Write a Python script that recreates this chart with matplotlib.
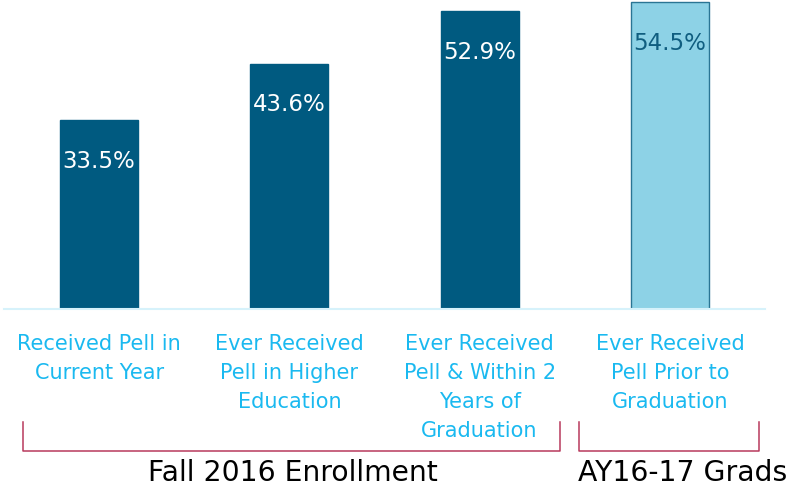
import numpy as np
import matplotlib.pyplot as plt
import matplotlib.transforms as mtransforms

# Pell grant share by measure
categories = [
    "Received Pell in\nCurrent Year",
    "Ever Received\nPell in Higher\nEducation",
    "Ever Received\nPell & Within 2\nYears of\nGraduation",
    "Ever Received\nPell Prior to\nGraduation",
]
values = [33.5, 43.6, 52.9, 54.5]
value_labels = ["33.5%", "43.6%", "52.9%", "54.5%"]

# group brackets under the categories: (label, first index, last index)
group_names = ["Fall 2016 Enrollment", "AY16-17 Grads"]
group_first = [0, 3]
group_last = [2, 3]

dark = "#005a80"
light = "#8dd2e6"
bar_colors = [dark, dark, dark, light]
edge_colors = [dark, dark, dark, "#2a7594"]
text_colors = ["white", "white", "white", "#105e80"]

plt.rcParams['font.family'] = ['DejaVu Sans']

fig = plt.figure(figsize=(7.9, 4.89), dpi=100)
ax = fig.add_axes([4 / 790, 179 / 489, 761 / 790, 310 / 489])

x = np.arange(len(categories))
bars = ax.bar(x, values, width=0.41, color=bar_colors, edgecolor=edge_colors, linewidth=1)

for b, lab, c in zip(bars, value_labels, text_colors):
    ax.annotate(lab, (b.get_x() + b.get_width() / 2, b.get_height()),
                xytext=(0, -29), textcoords="offset points",
                ha="center", va="center", color=c, fontsize=16.5)

ax.set_xlim(-0.5, 3.5)
ax.set_ylim(0, 55.06)
ax.set_xticks(x)
ax.set_xticklabels(categories, color="#1ab9f0", fontsize=15, linespacing=1.58)
ax.tick_params(axis="x", length=0, pad=17)
ax.set_yticks([])
for side in ["top", "right", "left"]:
    ax.spines[side].set_visible(False)
ax.spines["bottom"].set_color("#d6f2fb")
ax.spines["bottom"].set_linewidth(1.5)

# brackets and group titles
trans = mtransforms.blended_transform_factory(ax.transData, ax.transAxes)
bracket_pad = [(0.40, 0.42), (0.48, 0.47)]
title_shift = [1, 10]  # points
y_top, y_bot = -0.364, -0.458
for name, i0, i1, (pl, pr), dx in zip(group_names, group_first, group_last, bracket_pad, title_shift):
    x0, x1 = i0 - pl, i1 + pr
    ax.plot([x0, x0, x1, x1], [y_top, y_bot, y_bot, y_top], transform=trans,
            color="#b8395c", linewidth=1.1, clip_on=False)
    ax.annotate(name, ((x0 + x1) / 2, -0.525), xycoords=trans,
                xytext=(dx, 0), textcoords="offset points",
                ha="center", va="center", fontsize=20.3, color="black",
                annotation_clip=False)

fig.savefig("out.png", dpi=100)
